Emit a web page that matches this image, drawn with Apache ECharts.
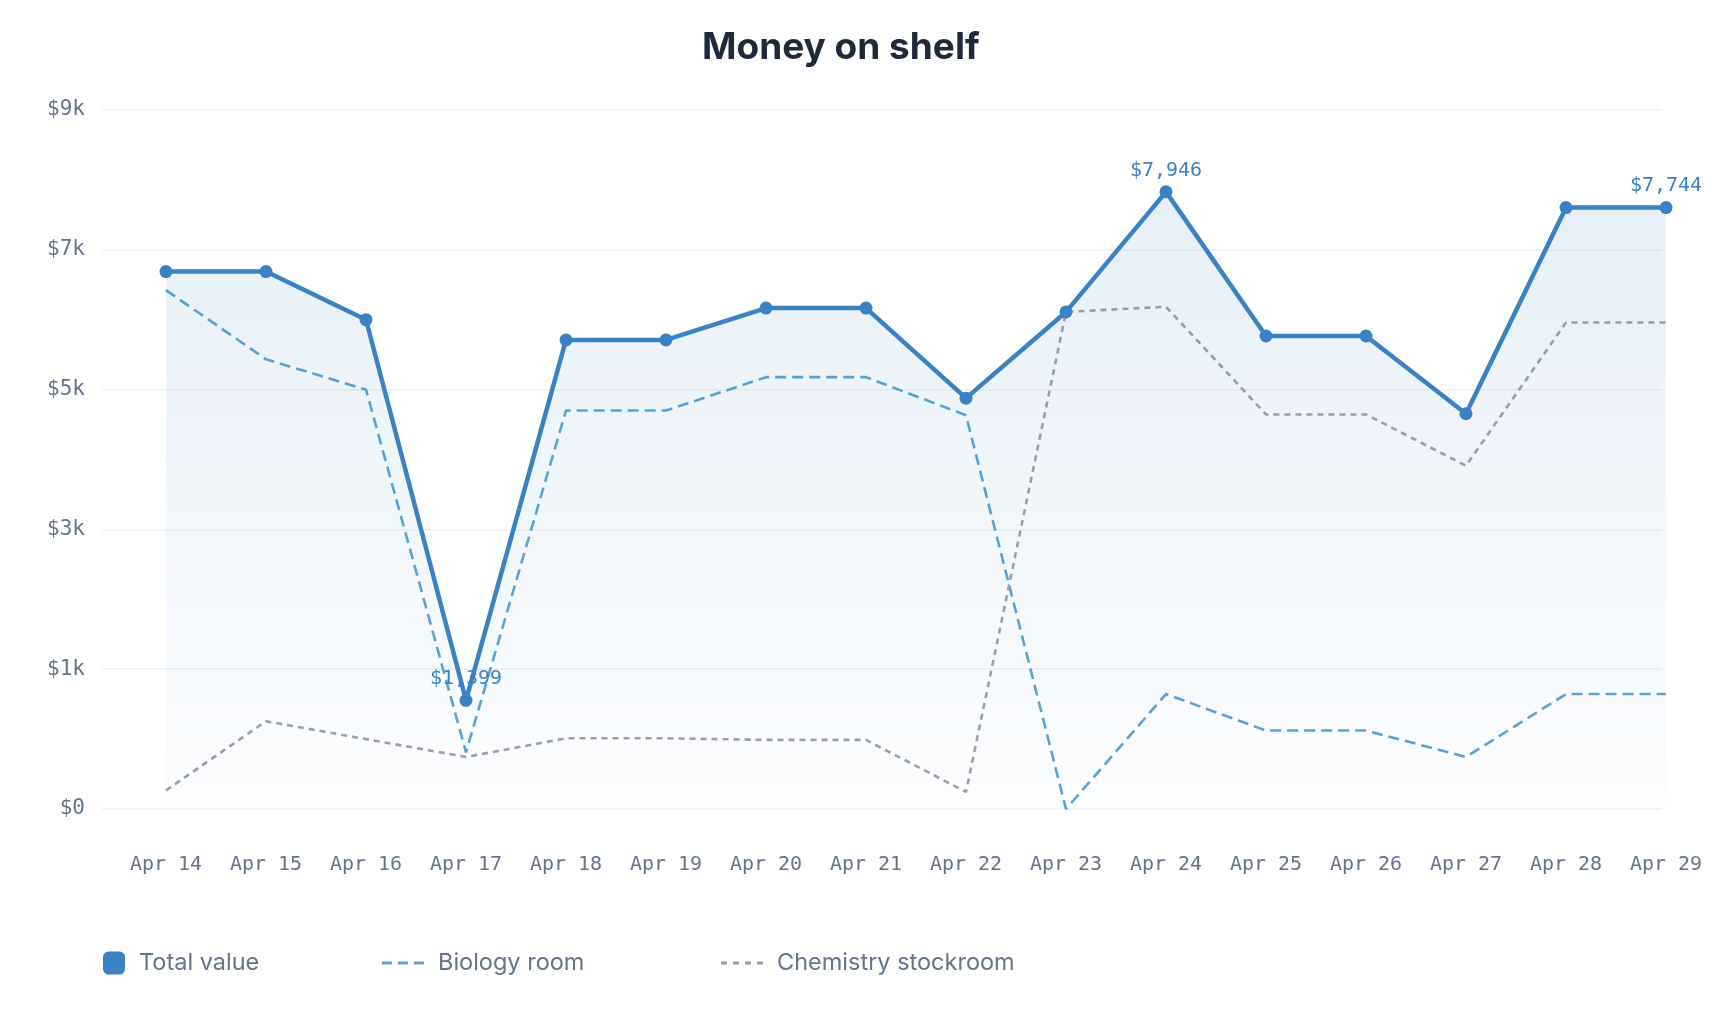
<!DOCTYPE html>
<html>
<head>
<meta charset="utf-8">
<script src="https://cdn.jsdelivr.net/npm/echarts@6/dist/echarts.min.js"></script>
<style>
html,body{margin:0;padding:0;background:#fff;}
#chart{width:1716px;height:1018px;}
</style>
</head>
<body>
<div id="chart"></div>
<script>
const categories = ['Apr 14','Apr 15','Apr 16','Apr 17','Apr 18','Apr 19','Apr 20','Apr 21','Apr 22','Apr 23','Apr 24','Apr 25','Apr 26','Apr 27','Apr 28','Apr 29'];
const totalValue = [6920, 6920, 6300, 1399, 6040, 6040, 6450, 6450, 5290, 6400, 7946, 6090, 6090, 5090, 7744, 7744];
const biologyRoom = [6680, 5790, 5400, 730, 5130, 5130, 5560, 5560, 5070, 0, 1480, 1010, 1010, 670, 1480, 1480];
const chemistryStockroom = [240, 1130, 900, 670, 910, 910, 890, 890, 220, 6400, 6466, 5080, 5080, 4420, 6264, 6264];
const yTicks = [0, 1800, 3600, 5400, 7200, 9000];

const mono = '"DejaVu Sans Mono", monospace';
const sans = 'Inter, "Noto Sans", sans-serif';
const blue = '#3b82c4';
const bioColor = '#5ba4d6';
const chemColor = '#9ca1a9';

const maxIdx = totalValue.indexOf(Math.max(...totalValue));
const minIdx = totalValue.indexOf(Math.min(...totalValue));
const lastIdx = totalValue.length - 1;

const legendText = {fontFamily: sans, fontSize: 23.5, color: '#64748b', padding: [0, 0, 0, 9]};

const chart = echarts.init(document.getElementById('chart'), null, {renderer: 'canvas'});
chart.setOption({
  animation: false,
  backgroundColor: '#ffffff',
  title: {
    text: 'Money on shelf',
    left: 702,
    top: 29,
    padding: 0,
    textStyle: {fontFamily: sans, fontSize: 37, fontWeight: 'bold', color: '#1e293b'}
  },
  legend: [
    {data: ['Total value'], left: 103, top: 951, padding: 0, icon: 'roundRect', itemWidth: 22, itemHeight: 23, itemGap: 14,
     textStyle: legendText},
    {data: [{name: 'Biology room', icon: 'path://M0,0H10V3H0Z M16,0H26V3H16Z M32,0H42V3H32Z'}], left: 382, top: 951, padding: 0,
     itemWidth: 42, itemHeight: 3, itemGap: 14, textStyle: legendText},
    {data: [{name: 'Chemistry stockroom', icon: 'path://M0,0H6V3H0Z M12,0H18V3H12Z M24,0H30V3H24Z M36,0H42V3H36Z'}], left: 721, top: 951, padding: 0,
     itemWidth: 42, itemHeight: 3, itemGap: 14, textStyle: legendText}
  ],
  grid: [
    {left: 102, right: 54, top: 110, bottom: 209, containLabel: false},
    {left: 166, right: 50, top: 110, bottom: 209, containLabel: false}
  ],
  xAxis: [
    {gridIndex: 0, type: 'category', data: categories, show: false, boundaryGap: false},
    {gridIndex: 1, type: 'category', data: categories, boundaryGap: false,
     axisLine: {show: false}, axisTick: {show: false},
     axisLabel: {fontFamily: mono, fontSize: 20, color: '#64748b', margin: 46, interval: 0}}
  ],
  yAxis: [
    {gridIndex: 0, type: 'value', min: yTicks[0], max: yTicks[yTicks.length - 1], interval: yTicks[1] - yTicks[0],
     axisLine: {show: false}, axisTick: {show: false},
     axisLabel: {fontFamily: mono, fontSize: 21, color: '#64748b', margin: 17, padding: [8, 0, 0, 0],
       formatter: v => '$' + Math.floor(v / 1000) + (v === 0 ? '' : 'k')},
     splitLine: {lineStyle: {color: '#eef0f3', width: 1.5}}},
    {gridIndex: 1, type: 'value', min: yTicks[0], max: yTicks[yTicks.length - 1], interval: yTicks[1] - yTicks[0], show: false,
     splitLine: {show: false}}
  ],
  series: [
    {
      name: 'Total value', type: 'line', xAxisIndex: 1, yAxisIndex: 1, data: totalValue,
      color: blue,
      symbol: 'circle', symbolSize: 13, z: 5,
      lineStyle: {color: blue, width: 4.5},
      itemStyle: {color: blue},
      areaStyle: {
        color: new echarts.graphic.LinearGradient(0, 0, 0, 1, [
          {offset: 0, color: 'rgba(59,130,196,0.18)'},
          {offset: 1, color: 'rgba(59,130,196,0.025)'}
        ])
      },
      label: {
        show: true, position: 'top', distance: 5,
        fontFamily: mono, fontSize: 20, color: blue,
        formatter: p => (p.dataIndex === maxIdx || p.dataIndex === minIdx || p.dataIndex === lastIdx)
          ? '$' + p.value.toLocaleString('en-US') : ''
      }
    },
    {
      name: 'Biology room', type: 'line', xAxisIndex: 1, yAxisIndex: 1, data: biologyRoom,
      color: bioColor, symbol: 'none', z: 3,
      lineStyle: {color: bioColor, width: 2.6, type: [11, 6]}
    },
    {
      name: 'Chemistry stockroom', type: 'line', xAxisIndex: 1, yAxisIndex: 1, data: chemistryStockroom,
      color: chemColor, symbol: 'none', z: 3,
      lineStyle: {color: chemColor, width: 2.6, type: [6, 5]}
    }
  ]
});
</script>
</body>
</html>
